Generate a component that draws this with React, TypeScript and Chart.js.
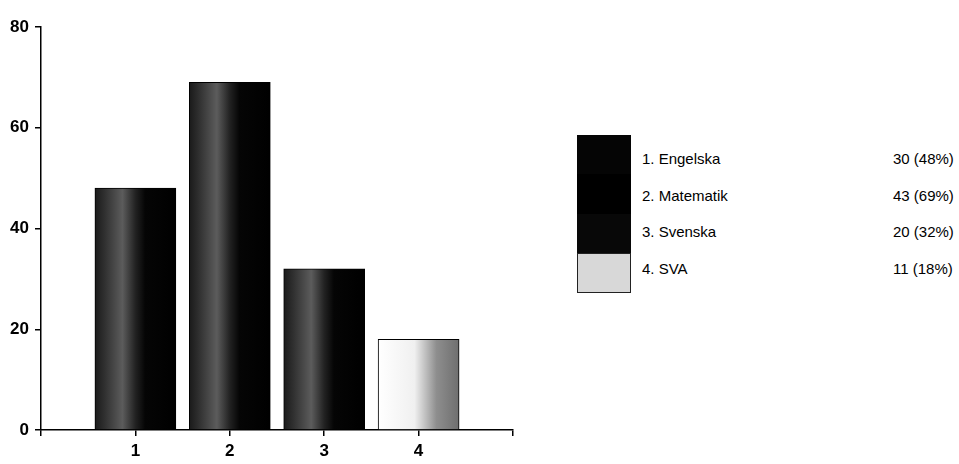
import React, { useEffect, useRef } from "react";
import { Chart, registerables } from "chart.js";

Chart.register(...registerables);

const categories = [1, 2, 3, 4];
const subjects = ["1. Engelska", "2. Matematik", "3. Svenska", "4. SVA"];
const counts = [30, 43, 20, 11];
const percents = [48, 69, 32, 18];
const yTicks = [0, 20, 40, 60, 80];

const darkStops: [number, string][] = [
  [0, "#1a1a1a"],
  [0.12, "#303030"],
  [0.34, "#5c5c5c"],
  [0.5, "#222222"],
  [0.62, "#050505"],
  [1, "#000000"],
];
const lightStops: [number, string][] = [
  [0, "#ffffff"],
  [0.45, "#f0f0f0"],
  [0.72, "#8e8e8e"],
  [1, "#6e6e6e"],
];

const gradientPlugin = {
  id: "barGradient",
  beforeDatasetsDraw(chart: any) {
    const ctx = chart.ctx;
    const meta = chart.getDatasetMeta(0);
    meta.data.forEach((bar: any, i: number) => {
      const { x, width } = bar.getProps(["x", "width"], true);
      const g = ctx.createLinearGradient(x - width / 2, 0, x + width / 2, 0);
      const stops = i === 3 ? lightStops : darkStops;
      stops.forEach(([o, c]) => g.addColorStop(o, c));
      bar.options = { ...bar.options, backgroundColor: g };
    });
  },
};

const swatchColors = ["#050505", "#000000", "#080808", "#d8d8d8"];
const tickFont = { family: "'Liberation Sans Narrow', 'Liberation Sans', Arial", size: 17, weight: "bold" as const };

export default function App() {
  const ref = useRef<HTMLCanvasElement>(null);

  useEffect(() => {
    if (!ref.current) return;
    const chart = new Chart(ref.current, {
      type: "bar",
      data: {
        datasets: [
          {
            data: categories.map((c, i) => ({ x: c, y: percents[i] })),
            backgroundColor: () => "#000",
            borderColor: "#000",
            borderWidth: 1,
            barThickness: 81,
          },
        ],
      },
      options: {
        animation: false,
        responsive: false,
        maintainAspectRatio: false,
        layout: { padding: { top: 27, right: 8, left: 0, bottom: 0 } },
        plugins: { legend: { display: false }, tooltip: { enabled: false } },
        scales: {
          x: {
            type: "linear",
            min: 0,
            max: 5,
            offset: false,
            border: { color: "#000", width: 1.5 },
            grid: { offset: false, drawOnChartArea: false, drawTicks: true, tickLength: 6, color: "#000", lineWidth: 1.5 },
            ticks: {
              stepSize: 1,
              color: "#000",
              padding: 5,
              font: tickFont,
              callback: (v: any) => (categories.includes(Number(v)) ? String(v) : ""),
            },
            afterFit: (s: any) => {
              s.height = 34;
            },
          },
          y: {
            min: 0,
            max: 80,
            border: { color: "#000", width: 1.5 },
            grid: { drawOnChartArea: false, drawTicks: true, tickLength: 6, color: "#000", lineWidth: 1.5 },
            afterBuildTicks: (s: any) => {
              s.ticks = yTicks.map((v) => ({ value: v }));
            },
            ticks: {
              color: "#000",
              padding: 6,
              font: tickFont,
            },
            afterFit: (s: any) => {
              s.width = 41;
            },
          },
        },
      },
      plugins: [gradientPlugin],
    });
    return () => chart.destroy();
  }, []);

  const rowTops = [149, 186, 222, 259];

  return (
    <div
      style={{
        position: "fixed",
        left: 0,
        top: 0,
        width: 959,
        height: 464,
        background: "#fff",
        overflow: "hidden",
        fontFamily: "'Liberation Sans', Arial, sans-serif",
      }}
    >
      <canvas ref={ref} width={521} height={464} style={{ position: "absolute", left: 0, top: 0 }} />
      <div
        style={{
          position: "absolute",
          left: 577,
          top: 135,
          width: 54,
          height: 158,
          display: "flex",
          flexDirection: "column",
        }}
      >
        {subjects.map((s, i) => (
          <div
            key={s}
            style={{
              flex: i === 3 ? "0 0 40px" : 1,
              background: swatchColors[i],
              border: i === 3 ? "1px solid #222" : "none",
              boxSizing: "border-box",
            }}
          />
        ))}
      </div>
      {subjects.map((s, i) => (
        <React.Fragment key={s}>
          <div
            style={{
              position: "absolute",
              left: 642,
              top: rowTops[i],
              fontSize: 15,
              lineHeight: "20px",
              color: "#000",
              whiteSpace: "nowrap",
            }}
          >
            {s}
          </div>
          <div
            style={{
              position: "absolute",
              left: 893,
              top: rowTops[i],
              fontSize: 15,
              lineHeight: "20px",
              color: "#000",
              whiteSpace: "nowrap",
            }}
          >
            {`${counts[i]} (${percents[i]}%)`}
          </div>
        </React.Fragment>
      ))}
    </div>
  );
}
